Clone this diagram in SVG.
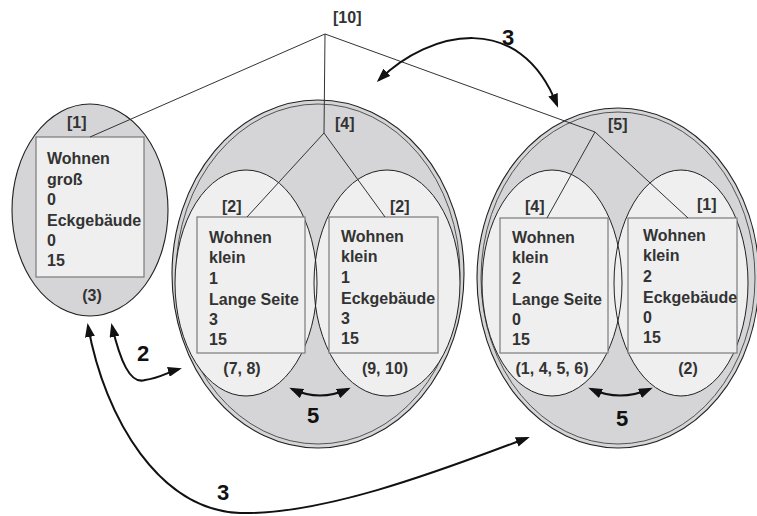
<svg xmlns="http://www.w3.org/2000/svg" width="757" height="516" viewBox="0 0 757 516">
  <style>
    .outer { fill: #d5d5d7; stroke: #222; stroke-width: 1.1; }
    .ring { fill: none; stroke: #444; stroke-width: 0.9; }
    .innerFill { fill: #efefef; stroke: none; }
    .innerLine { fill: none; stroke: #222; stroke-width: 1; }
    .box { fill: #efefef; stroke: #7a7a7a; stroke-width: 1.2; }
    .txt { font-family: "Liberation Sans", Arial, sans-serif; font-weight: bold; font-size: 16px; fill: #333; }
    .num { font-family: "Liberation Sans", Arial, sans-serif; font-weight: bold; font-size: 22px; fill: #111; }
    .tree { fill: none; stroke: #333; stroke-width: 1; }
    .arrow { fill: none; stroke: #111; stroke-width: 2; marker-start: url(#head); marker-end: url(#head); }
  </style>
  <defs>
    <marker id="head" viewBox="0 0 14 10" refX="11" refY="5" markerWidth="14" markerHeight="10" markerUnits="userSpaceOnUse" orient="auto-start-reverse">
      <path d="M0,0 L14,5 L0,10 z" fill="#111"/>
    </marker>
  </defs>

  <!-- cluster [1]: single building -->
  <g id="node-1">
    <ellipse class="outer" cx="90" cy="210" rx="78" ry="106"/>
    <text class="txt" x="67" y="128">[1]</text>
    <rect class="box" x="36" y="137" width="108" height="140"/>
    <text class="txt" x="47" y="164">Wohnen</text>
    <text class="txt" x="47" y="185">groß</text>
    <text class="txt" x="47" y="205">0</text>
    <text class="txt" x="47" y="226">Eckgebäude</text>
    <text class="txt" x="47" y="246">0</text>
    <text class="txt" x="47" y="266">15</text>
    <text class="txt" x="92" y="301" text-anchor="middle">(3)</text>
  </g>

  <!-- cluster [4]: two small residential groups -->
  <g id="node-4">
    <ellipse class="outer" cx="318" cy="274" rx="146" ry="174"/>
    <ellipse class="ring" cx="318" cy="274" rx="142" ry="170"/>
    <ellipse class="innerFill" cx="246" cy="283" rx="71" ry="113"/>
    <ellipse class="innerFill" cx="387" cy="283" rx="73" ry="113"/>
    <ellipse class="innerLine" cx="246" cy="283" rx="71" ry="113"/>
    <ellipse class="innerLine" cx="387" cy="283" rx="73" ry="113"/>
    <text class="txt" x="335" y="129">[4]</text>
  </g>
  <g id="node-4a">
    <text class="txt" x="222" y="212">[2]</text>
    <rect class="box" x="197" y="217" width="108" height="136"/>
    <text class="txt" x="209" y="243">Wohnen</text>
    <text class="txt" x="209" y="263">klein</text>
    <text class="txt" x="209" y="284">1</text>
    <text class="txt" x="209" y="305">Lange Seite</text>
    <text class="txt" x="209" y="325">3</text>
    <text class="txt" x="209" y="345">15</text>
    <text class="txt" x="242" y="374" text-anchor="middle">(7, 8)</text>
  </g>
  <g id="node-4b">
    <text class="txt" x="390" y="212">[2]</text>
    <rect class="box" x="329" y="217" width="109" height="136"/>
    <text class="txt" x="341" y="242">Wohnen</text>
    <text class="txt" x="341" y="262">klein</text>
    <text class="txt" x="341" y="283">1</text>
    <text class="txt" x="341" y="304">Eckgebäude</text>
    <text class="txt" x="341" y="324">3</text>
    <text class="txt" x="341" y="344">15</text>
    <text class="txt" x="385" y="374" text-anchor="middle">(9, 10)</text>
  </g>

  <!-- cluster [5]: two small residential groups -->
  <g id="node-5">
    <ellipse class="outer" cx="618" cy="278" rx="141" ry="170"/>
    <ellipse class="ring" cx="618" cy="278" rx="137" ry="166"/>
    <ellipse class="innerFill" cx="552" cy="283" rx="70" ry="113"/>
    <ellipse class="innerFill" cx="681" cy="283" rx="67" ry="113"/>
    <ellipse class="innerLine" cx="552" cy="283" rx="70" ry="113"/>
    <ellipse class="innerLine" cx="681" cy="283" rx="67" ry="113"/>
    <text class="txt" x="608" y="130">[5]</text>
  </g>
  <g id="node-5a">
    <text class="txt" x="525" y="212">[4]</text>
    <rect class="box" x="500" y="218" width="108" height="135"/>
    <text class="txt" x="512" y="243">Wohnen</text>
    <text class="txt" x="512" y="263">klein</text>
    <text class="txt" x="512" y="284">2</text>
    <text class="txt" x="512" y="305">Lange Seite</text>
    <text class="txt" x="512" y="325">0</text>
    <text class="txt" x="512" y="345">15</text>
    <text class="txt" x="552" y="374" text-anchor="middle">(1, 4, 5, 6)</text>
  </g>
  <g id="node-5b">
    <text class="txt" x="697" y="210">[1]</text>
    <rect class="box" x="628" y="218" width="109" height="135"/>
    <text class="txt" x="643" y="241">Wohnen</text>
    <text class="txt" x="643" y="261">klein</text>
    <text class="txt" x="643" y="282">2</text>
    <text class="txt" x="643" y="303">Eckgebäude</text>
    <text class="txt" x="643" y="323">0</text>
    <text class="txt" x="643" y="343">15</text>
    <text class="txt" x="688" y="374" text-anchor="middle">(2)</text>
  </g>

  <!-- root [10] -->
  <g id="node-10">
    <text class="txt" x="333" y="23">[10]</text>
  </g>

  <!-- hierarchy lines and exchange arrows -->
  <g id="connectors">
    <path class="tree" d="M325 34 L90 137"/>
    <path class="tree" d="M325 34 L324 133"/>
    <path class="tree" d="M325 34 L595 132"/>
    <path class="tree" d="M324 133 L247 217 M324 133 L385 217"/>
    <path class="tree" d="M595 132 L547 218 M595 132 L688 218"/>

    <path class="arrow" d="M379 80 C430 30, 520 10, 557 105"/>
    <path class="arrow" d="M112 326 C120 360, 130 385, 145 380 C160 378, 168 372, 179 369"/>
    <path class="arrow" d="M88 326 C105 420, 160 510, 240 513 C320 515, 430 475, 527 438"/>
    <path class="arrow" d="M292 389 Q320 402, 348 389"/>
    <path class="arrow" d="M591 389 Q620 402, 650 389"/>

    <text class="num" x="508" y="45" text-anchor="middle">3</text>
    <text class="num" x="143" y="361" text-anchor="middle">2</text>
    <text class="num" x="223" y="500" text-anchor="middle">3</text>
    <text class="num" x="313" y="423" text-anchor="middle">5</text>
    <text class="num" x="622" y="426" text-anchor="middle">5</text>
  </g>
</svg>
